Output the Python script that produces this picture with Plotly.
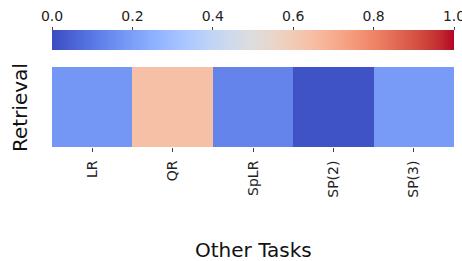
import plotly.graph_objects as go

tasks = ["LR", "QR", "SpLR", "SP(2)", "SP(3)"]
row_label = ["Retrieval"]
values = [0.18, 0.64, 0.13, 0.015, 0.19]
cbar_ticks = [0.0, 0.2, 0.4, 0.6, 0.8, 1.0]

coolwarm_rgb = [
    (59, 76, 192), (68, 90, 204), (77, 104, 215), (87, 117, 225), (98, 130, 234),
    (108, 142, 241), (119, 154, 247), (130, 165, 251), (141, 176, 254), (152, 185, 255),
    (163, 194, 255), (174, 201, 253), (184, 208, 249), (194, 213, 244), (204, 217, 238),
    (213, 219, 230), (221, 221, 221), (229, 216, 209), (236, 211, 197), (241, 204, 184),
    (245, 196, 173), (247, 187, 160), (247, 177, 148), (247, 166, 135), (244, 154, 123),
    (241, 141, 111), (236, 127, 99), (229, 112, 88), (222, 96, 77), (213, 80, 66),
    (203, 62, 56), (192, 40, 47), (180, 4, 38),
]
n = len(coolwarm_rgb) - 1
colorscale = [[i / n, "rgb(%d,%d,%d)" % c] for i, c in enumerate(coolwarm_rgb)]

W, H = 462, 261
L, R = 52, 8
plot_w = W - L - R
cb_top = 30

fig = go.Figure()
fig.add_trace(
    go.Heatmap(
        z=[values],
        x=tasks,
        y=row_label,
        zmin=0,
        zmax=1,
        colorscale=colorscale,
        colorbar=dict(
            orientation="h",
            x=0.5,
            xanchor="center",
            y=1 - cb_top / H,
            yanchor="top",
            thickness=20,
            len=1,
            lenmode="fraction",
            xpad=0,
            ypad=0,
            outlinewidth=0,
            showticklabels=False,
            ticks="",
        ),
    )
)
# invisible trace so the colorbar label axis (x2) is drawn
fig.add_trace(
    go.Scatter(
        x=cbar_ticks,
        y=[row_label[0]] * len(cbar_ticks),
        xaxis="x2",
        yaxis="y",
        mode="markers",
        marker=dict(opacity=0),
        hoverinfo="skip",
        showlegend=False,
    )
)

fig.update_layout(
    width=W,
    height=H,
    margin=dict(l=L, r=R, t=0, b=0, autoexpand=False),
    paper_bgcolor="white",
    plot_bgcolor="white",
    font=dict(family="DejaVu Sans", size=14, color="#222"),
    showlegend=False,
    xaxis=dict(
        tickangle=-90,
        ticks="outside",
        ticklen=4,
        tickcolor="#444",
        ticklabelstandoff=3,
        showgrid=False,
        zeroline=False,
        tickfont=dict(family="DejaVu Sans", size=14, color="#222"),
    ),
    xaxis2=dict(
        range=[0, 1],
        domain=[0, 1],
        anchor="free",
        position=1 - cb_top / H,
        side="top",
        overlaying="x",
        tickvals=cbar_ticks,
        ticktext=["%.1f" % t for t in cbar_ticks],
        ticks="outside",
        ticklen=3,
        tickcolor="#444",
        ticklabeloverflow="allow",
        showgrid=False,
        zeroline=False,
        showline=False,
        tickfont=dict(family="DejaVu Sans", size=14, color="#222"),
    ),
    yaxis=dict(
        domain=[1 - 147 / H, 1 - 67 / H],
        showticklabels=False,
        ticks="",
        showgrid=False,
        zeroline=False,
    ),
    annotations=[
        dict(
            text="Other Tasks",
            xref="paper",
            yref="paper",
            x=0.5,
            y=1 - 250 / H,
            xanchor="center",
            yanchor="middle",
            showarrow=False,
            font=dict(family="DejaVu Sans", size=20, color="#111"),
        ),
        dict(
            text="Retrieval",
            xref="paper",
            yref="paper",
            x=-(L - 20) / plot_w,
            y=1 - 108 / H,
            xanchor="center",
            yanchor="middle",
            textangle=-90,
            showarrow=False,
            font=dict(family="DejaVu Sans", size=20, color="#111"),
        ),
    ],
)

fig.write_html(
    "out.html",
    config={"displayModeBar": False},
    post_script="document.body.style.margin='0';document.body.style.overflow='hidden';",
)
